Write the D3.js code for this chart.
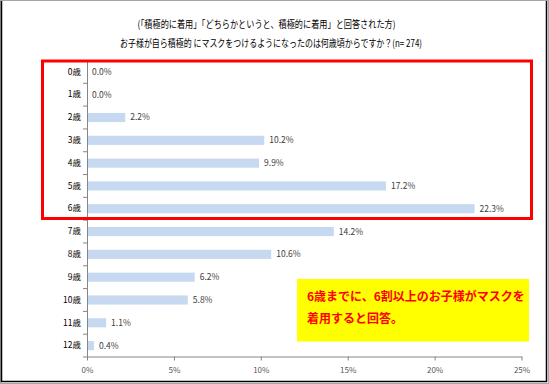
<!DOCTYPE html>
<html><head><meta charset="utf-8">
<script src="https://cdn.jsdelivr.net/npm/d3@7"></script>
<style>body{margin:0;background:#fff}svg{display:block}</style>
</head><body>
<script>
const categories = ["0歳","1歳","2歳","3歳","4歳","5歳","6歳","7歳","8歳","9歳","10歳","11歳","12歳"];
const values = [0.0,0.0,2.2,10.2,9.9,17.2,22.3,14.2,10.6,6.2,5.8,1.1,0.4];
const xTicks = [0,5,10,15,20,25];
const titleLines = ["(「積極的に着用」「どちらかというと、積極的に着用」と回答された方)","お子様が自ら積極的 にマスクをつけるようになったのは何歳頃からですか？(n= 274)"];
const noteLines = ["6歳までに、6割以上のお子様がマスクを","着用すると回答。"];

const W=549,H=384;
const svg=d3.select("body").append("svg").attr("width",W).attr("height",H);
const font="'Noto Sans CJK JP','DejaVu Sans',sans-serif";
svg.append("rect").attr("x",0.5).attr("y",0.5).attr("width",W-1).attr("height",H-1).attr("fill","#fff").attr("stroke","#a6a6a6");
svg.append("path").attr("d",`M1.5,1 V${H-2.5} H${W-2.5} V1`).attr("fill","none").attr("stroke","#000").attr("stroke-width",1.5);

const x=d3.scaleLinear().domain([0,25]).range([87,521.5]);
const y=d3.scaleBand().domain(categories).range([60.5,357]).paddingInner(0.6).paddingOuter(0.3);

const titleCfg=[{cx:266.5,w:258},{cx:271,w:302}];
svg.selectAll(".t").data(titleLines).join("text").attr("x",(d,i)=>titleCfg[i].cx-titleCfg[i].w/2).attr("y",(d,i)=>28+i*19)
 .attr("textLength",(d,i)=>titleCfg[i].w).attr("lengthAdjust","spacingAndGlyphs")
 .attr("font-family",font).attr("font-size",10).attr("fill","#000").text(d=>d);

svg.selectAll(".bar").data(values).join("rect").attr("x",x(0)).attr("y",(d,i)=>y(categories[i]))
 .attr("width",d=>x(d)-x(0)).attr("height",y.bandwidth()).attr("fill","#c6d9f1");

const yAxis=d3.axisLeft(y).tickSize(0).tickPadding(6);
const gy=svg.append("g").attr("transform",`translate(${x(0)},0)`).call(yAxis);
gy.select(".domain").attr("stroke","#868686");
gy.selectAll("text").attr("font-family",font).attr("font-size",8.5).attr("fill","#000");
const step=y.step();
const bounds=d3.range(categories.length+1).map(i=>y(categories[0]) - (y.paddingInner()*step)/2 + i*step);
svg.selectAll(".bt").data(bounds).join("line").attr("x1",x(0)-4).attr("x2",x(0)).attr("y1",d=>d).attr("y2",d=>d).attr("stroke","#868686");

const xAxis=d3.axisBottom(x).tickValues(xTicks).tickFormat(d=>d+"%").tickSize(4).tickSizeOuter(0).tickPadding(7);
const gx=svg.append("g").attr("transform",`translate(0,356.5)`).call(xAxis);
gx.select(".domain").attr("stroke","#868686");
gx.selectAll("line").attr("stroke","#868686");
gx.selectAll("text").attr("font-family",font).attr("font-size",8).attr("fill","#595959");

svg.selectAll(".lbl").data(values).join("text").attr("x",d=>x(d)+5).attr("y",(d,i)=>y(categories[i])+y.bandwidth()/2)
 .attr("dy","0.35em").attr("font-family",font).attr("font-size",8.5).attr("fill","#404040").text(d=>d.toFixed(1)+"%");

svg.append("rect").attr("x",42.5).attr("y",61).attr("width",489).attr("height",157.5).attr("fill","none").attr("stroke","#ff0000").attr("stroke-width",3);

svg.append("rect").attr("x",297).attr("y",279).attr("width",232).attr("height",62.5).attr("fill","#ffff00");
svg.selectAll(".nt").data(noteLines).join("text").attr("x",307).attr("y",(d,i)=>301+i*22)
 .attr("font-family",font).attr("font-size",12).attr("font-weight","bold").attr("fill","#ff0000").text(d=>d);
</script>
</body></html>
